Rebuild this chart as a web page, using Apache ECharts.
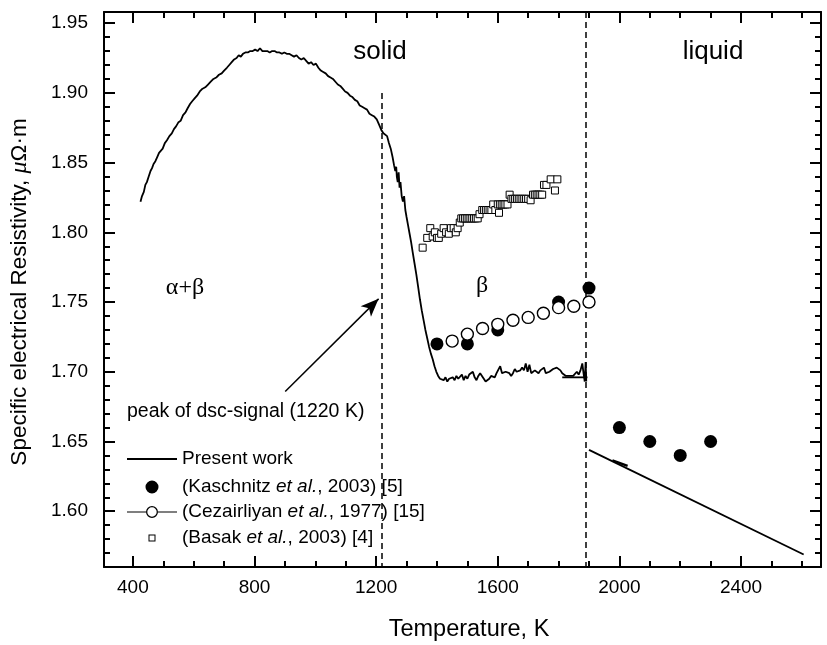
<!DOCTYPE html>
<html>
<head>
<meta charset="utf-8">
<script src="https://cdn.jsdelivr.net/npm/echarts@6/dist/echarts.min.js"></script>
<style>
html,body{margin:0;padding:0;background:#fff;}
#chart{width:827px;height:645px;}
</style>
</head>
<body>
<div id="chart"></div>
<script>
// ---------- data ----------
const presentT = [425,430,436,441,446,452,458,463,468,474,480,486,492,498,505,512,520,528,535,542,550,557,565,573,580,588,595,603,611,620,629,638,647,656,665,674,683,692,700,709,717,725,733,741,748,755,762,770,778,786,794,802,810,818,826,834,842,850,858,866,874,882,890,898,906,914,922,930,938,946,954,962,970,978,986,994,1002,1010,1018,1026,1034,1042,1050,1058,1066,1074,1082,1090,1098,1106,1114,1122,1130,1138,1146,1154,1162,1170,1178,1186,1194,1202,1210,1218,1224,1230,1236,1242,1248,1254,1259,1263,1266,1268,1271,1274,1277,1280,1284,1288,1292,1296,1300,1305,1310,1315,1320,1326,1332,1338,1344,1350,1356,1362,1368,1374,1380,1386,1392,1398,1404,1410,1416,1422,1428,1434,1440,1446,1452,1458,1464,1470,1476,1482,1488,1494,1500,1506,1512,1518,1524,1530,1536,1542,1548,1554,1560,1566,1572,1578,1584,1590,1596,1602,1608,1614,1620,1626,1632,1638,1644,1650,1656,1662,1668,1674,1680,1686,1692,1698,1704,1710,1716,1722,1728,1734,1740,1746,1752,1758,1764,1770,1776,1782,1788,1794,1800,1806,1812,1818,1824,1830,1836,1842,1848,1854,1860,1866,1872,1878,1882,1886,1889,1891];
const presentR = [1.822,1.826,1.829,1.834,1.836,1.840,1.844,1.846,1.849,1.851,1.854,1.857,1.858,1.860,1.864,1.866,1.869,1.871,1.874,1.876,1.879,1.880,1.884,1.886,1.889,1.892,1.894,1.896,1.898,1.901,1.903,1.904,1.906,1.908,1.910,1.911,1.913,1.914,1.916,1.918,1.920,1.922,1.924,1.925,1.927,1.926,1.928,1.929,1.929,1.930,1.930,1.931,1.930,1.932,1.930,1.930,1.930,1.929,1.930,1.930,1.929,1.929,1.928,1.929,1.928,1.928,1.927,1.926,1.927,1.925,1.924,1.925,1.923,1.921,1.922,1.920,1.921,1.918,1.916,1.915,1.914,1.912,1.911,1.910,1.908,1.906,1.905,1.903,1.901,1.900,1.898,1.897,1.895,1.894,1.891,1.890,1.889,1.888,1.885,1.884,1.883,1.881,1.877,1.873,1.871,1.870,1.869,1.864,1.860,1.854,1.848,1.844,1.847,1.840,1.836,1.843,1.832,1.836,1.826,1.822,1.826,1.816,1.811,1.805,1.799,1.793,1.786,1.778,1.770,1.761,1.752,1.744,1.737,1.730,1.724,1.718,1.713,1.709,1.704,1.700,1.697,1.695,1.696,1.694,1.696,1.693,1.695,1.694,1.696,1.694,1.697,1.695,1.696,1.698,1.694,1.697,1.695,1.698,1.697,1.700,1.696,1.694,1.697,1.699,1.697,1.695,1.693,1.692,1.695,1.697,1.698,1.696,1.699,1.700,1.704,1.699,1.698,1.700,1.701,1.699,1.697,1.699,1.702,1.700,1.699,1.701,1.703,1.701,1.706,1.700,1.705,1.699,1.700,1.701,1.700,1.699,1.701,1.700,1.703,1.699,1.700,1.700,1.699,1.702,1.701,1.703,1.704,1.701,1.699,1.698,1.697,1.696,1.697,1.696,1.697,1.698,1.700,1.698,1.701,1.706,1.699,1.693,1.707,1.693];
const endSegT = [1812,1895];
const endSegR = [1.696,1.696];
const liquidT = [1900,2606];
const liquidR = [1.644,1.569];
const bumpT = [1977,2027];
const bumpR = [1.6365,1.6325];

const kaschT = [1400,1500,1600,1800,1900,2000,2100,2200,2300];
const kaschR = [1.720,1.720,1.730,1.750,1.760,1.660,1.650,1.640,1.650];

const cezT = [1450,1500,1550,1600,1650,1700,1750,1800,1850,1900];
const cezR = [1.722,1.727,1.731,1.734,1.737,1.739,1.742,1.746,1.747,1.750];

const basakT = [1353,1368,1378,1386,1393,1400,1406,1414,1422,1430,1439,1446,1455,1462,1468,1475,1480,1486,1492,1498,1504,1510,1516,1522,1528,1534,1540,1549,1555,1561,1567,1573,1579,1585,1592,1604,1600,1607,1613,1619,1625,1632,1639,1645,1651,1657,1663,1669,1675,1681,1687,1693,1700,1708,1716,1722,1728,1734,1740,1746,1752,1760,1774,1788,1796];
const basakR = [1.789,1.796,1.803,1.797,1.800,1.796,1.796,1.799,1.803,1.800,1.799,1.803,1.803,1.800,1.803,1.807,1.810,1.810,1.810,1.810,1.810,1.810,1.810,1.810,1.810,1.810,1.813,1.816,1.816,1.816,1.816,1.816,1.816,1.820,1.816,1.814,1.820,1.820,1.820,1.820,1.820,1.820,1.827,1.824,1.824,1.824,1.824,1.824,1.824,1.824,1.824,1.824,1.824,1.823,1.827,1.827,1.827,1.827,1.827,1.827,1.834,1.834,1.838,1.830,1.838];

const xMajorTicks = [400,800,1200,1600,2000,2400];
const xMinorTicks = [500,600,700,900,1000,1100,1300,1400,1500,1700,1800,1900,2100,2200,2300,2500,2600];
const yMajorTicks = [1.60,1.65,1.70,1.75,1.80,1.85,1.90,1.95];
const yMinorTicks = [1.57,1.58,1.59,1.61,1.62,1.63,1.64,1.66,1.67,1.68,1.69,1.71,1.72,1.73,1.74,1.76,1.77,1.78,1.79,1.81,1.82,1.83,1.84,1.86,1.87,1.88,1.89,1.91,1.92,1.93,1.94];

const dscT = 1220;
const meltT = 1890;

const zip = (a,b) => a.map((v,i)=>[v,b[i]]);

// ---------- chart ----------
const FONT = '"Liberation Sans", Arial, sans-serif';
const SERIF = '"Liberation Serif", "Times New Roman", serif';
const XMIN = 305, XMAX = 2663, YMIN = 1.560, YMAX = 1.958;
const black = '#000';

function xAxisDef(pos, ticks, len, main) {
  return {
    type:'value', gridIndex:0, position:pos, min:XMIN, max:XMAX,
    axisLine:{show:main, onZero:false, lineStyle:{color:black, width:2}},
    axisTick:{show:true, inside:true, length:len, customValues:ticks, lineStyle:{color:black, width:2}},
    axisLabel:{show: main && pos==='bottom', customValues:ticks, color:black, fontFamily:FONT, fontSize:19, margin:11,
      formatter: v => String(v)},
    splitLine:{show:false}
  };
}
function yAxisDef(pos, ticks, len, main) {
  return {
    type:'value', gridIndex:0, position:pos, min:YMIN, max:YMAX,
    axisLine:{show:main, onZero:false, lineStyle:{color:black, width:2}},
    axisTick:{show:true, inside:true, length:len, customValues:ticks, lineStyle:{color:black, width:2}},
    axisLabel:{show: main && pos==='left', customValues:ticks, color:black, fontFamily:FONT, fontSize:19, margin:16,
      formatter: v => v.toFixed(2)},
    splitLine:{show:false}
  };
}

const xAxes = [
  xAxisDef('bottom', xMajorTicks, 11, true),
  xAxisDef('bottom', xMinorTicks, 6, false),
  xAxisDef('top', xMajorTicks, 11, true),
  xAxisDef('top', xMinorTicks, 6, false)
];
const yAxes = [
  yAxisDef('left', yMajorTicks, 11, true),
  yAxisDef('left', yMinorTicks, 6, false),
  yAxisDef('right', yMajorTicks, 11, true),
  yAxisDef('right', yMinorTicks, 6, false)
];

const lineStyleMain = {color:black, width:1.8};
const presentBase = {type:'line', name:'Present work', xAxisIndex:0, yAxisIndex:0, showSymbol:false, symbol:'none',
  lineStyle:lineStyleMain, itemStyle:{color:black}, silent:true, z:3};

// legend icons, all drawn in a 50 x 13 box
const BOX = 'M0,0L0.01,0 M49.99,13L50,13 ';
const iconLine = 'path://' + BOX + 'M0,5.5H50V7.5H0Z';
const iconFilled = 'path://' + BOX + 'M31.5,6.5A6.5,6.5,0,1,1,18.5,6.5A6.5,6.5,0,1,1,31.5,6.5Z';
const iconOpen = 'path://' + BOX + 'M0,6H19V7H0Z M31,6H50V7H31Z M31,6.5A6,6,0,1,0,19,6.5A6,6,0,1,0,31,6.5Z M29.7,6.5A4.7,4.7,0,1,1,20.3,6.5A4.7,4.7,0,1,1,29.7,6.5Z';
const iconSquare = 'path://' + BOX + 'M21.5,3H28.5V10H21.5Z M22.5,4V9H27.5V4Z';

function legendFor(name, top, icon, text) {
  return {
    data:[{name:name, icon:icon}],
    left:127, top:top, padding:0, itemWidth:50, itemHeight:13, selectedMode:false,
    symbolKeepAspect:true,
    itemStyle:{color:black, borderWidth:0},
    formatter: () => text,
    textStyle:{color:black, fontFamily:FONT, fontSize:19, lineHeight:20,
      rich:{i:{fontFamily:FONT, fontStyle:'italic', fontSize:19, lineHeight:20, color:black}}}
  };
}

const option = {
  animation:false,
  backgroundColor:'#fff',
  grid:{left:104, right:6, top:12, bottom:78, containLabel:false},
  xAxis:xAxes,
  yAxis:yAxes,
  legend:[
    legendFor('Present work', 449, iconLine, 'Present work'),
    legendFor('Kaschnitz', 477, iconFilled, '(Kaschnitz {i|et al.}, 2003) [5]'),
    legendFor('Cezairliyan', 502, iconOpen, '(Cezairliyan {i|et al.}, 1977) [15]'),
    legendFor('Basak', 528, iconSquare, '(Basak {i|et al.}, 2003) [4]')
  ],
  series:[
    Object.assign({}, presentBase, {data:zip(presentT, presentR),
      markLine:{silent:true, symbol:['none','none'], label:{show:false}, animation:false,
        data:[
          [{coord:[dscT,1.900], lineStyle:{color:black, width:1.5, type:[6,4]}}, {coord:[dscT,YMIN]}],
          [{coord:[meltT,YMAX], lineStyle:{color:black, width:1.5, type:[6,4]}}, {coord:[meltT,YMIN]}],
          [{coord:[901,1.6858], symbol:'none', lineStyle:{color:black, width:1.5, type:'solid'}},
           {coord:[1208,1.7523], symbol:'arrow', symbolSize:[11,18]}]
        ]}}),
    Object.assign({}, presentBase, {data:zip(endSegT, endSegR)}),
    Object.assign({}, presentBase, {data:zip(liquidT, liquidR)}),
    Object.assign({}, presentBase, {data:zip(bumpT, bumpR), lineStyle:{color:black, width:2.4}}),
    {type:'scatter', name:'Kaschnitz', xAxisIndex:0, yAxisIndex:0, symbol:'circle', symbolSize:13,
      itemStyle:{color:black, opacity:1}, data:zip(kaschT, kaschR), z:4, silent:true},
    {type:'scatter', name:'Cezairliyan', xAxisIndex:0, yAxisIndex:0, symbol:'circle', symbolSize:12,
      itemStyle:{color:'#fff', borderColor:black, borderWidth:1.4, opacity:1}, data:zip(cezT, cezR), z:5, silent:true},
    {type:'scatter', name:'Basak', xAxisIndex:0, yAxisIndex:0, symbol:'rect', symbolSize:7,
      itemStyle:{color:'#fff', borderColor:black, borderWidth:1, opacity:1}, data:zip(basakT, basakR), z:4, silent:true}
  ],
  graphic:[
    {type:'text', x:469, y:630, silent:true, style:{text:'Temperature, K', fontFamily:FONT, fontSize:23.5, fill:black, align:'center', verticalAlign:'middle'}},
    {type:'text', x:20, y:292, rotation:Math.PI/2, silent:true,
      style:{text:'Specific electrical Resistivity, {i|μ}Ω·m', fontFamily:FONT, fontSize:22.5, fill:black, align:'center', verticalAlign:'middle',
        rich:{i:{fontFamily:SERIF, fontStyle:'italic', fontSize:24, fill:black}}}},
    {type:'text', x:380, y:52, silent:true, style:{text:'solid', fontFamily:FONT, fontSize:26, fill:black, align:'center', verticalAlign:'middle'}},
    {type:'text', x:713, y:52, silent:true, style:{text:'liquid', fontFamily:FONT, fontSize:26, fill:black, align:'center', verticalAlign:'middle'}},
    {type:'text', x:185, y:288, silent:true, style:{text:'α+β', fontFamily:SERIF, fontSize:24, fill:black, align:'center', verticalAlign:'middle'}},
    {type:'text', x:482, y:286, silent:true, style:{text:'β', fontFamily:SERIF, fontSize:24, fill:black, align:'center', verticalAlign:'middle'}},
    {type:'text', x:127, y:412, silent:true, style:{text:'peak of dsc-signal (1220 K)', fontFamily:FONT, fontSize:19.5, fill:black, align:'left', verticalAlign:'middle'}}
  ]
};

const chart = echarts.init(document.getElementById('chart'), null, {renderer:'canvas'});
chart.setOption(option);
</script>
</body>
</html>
